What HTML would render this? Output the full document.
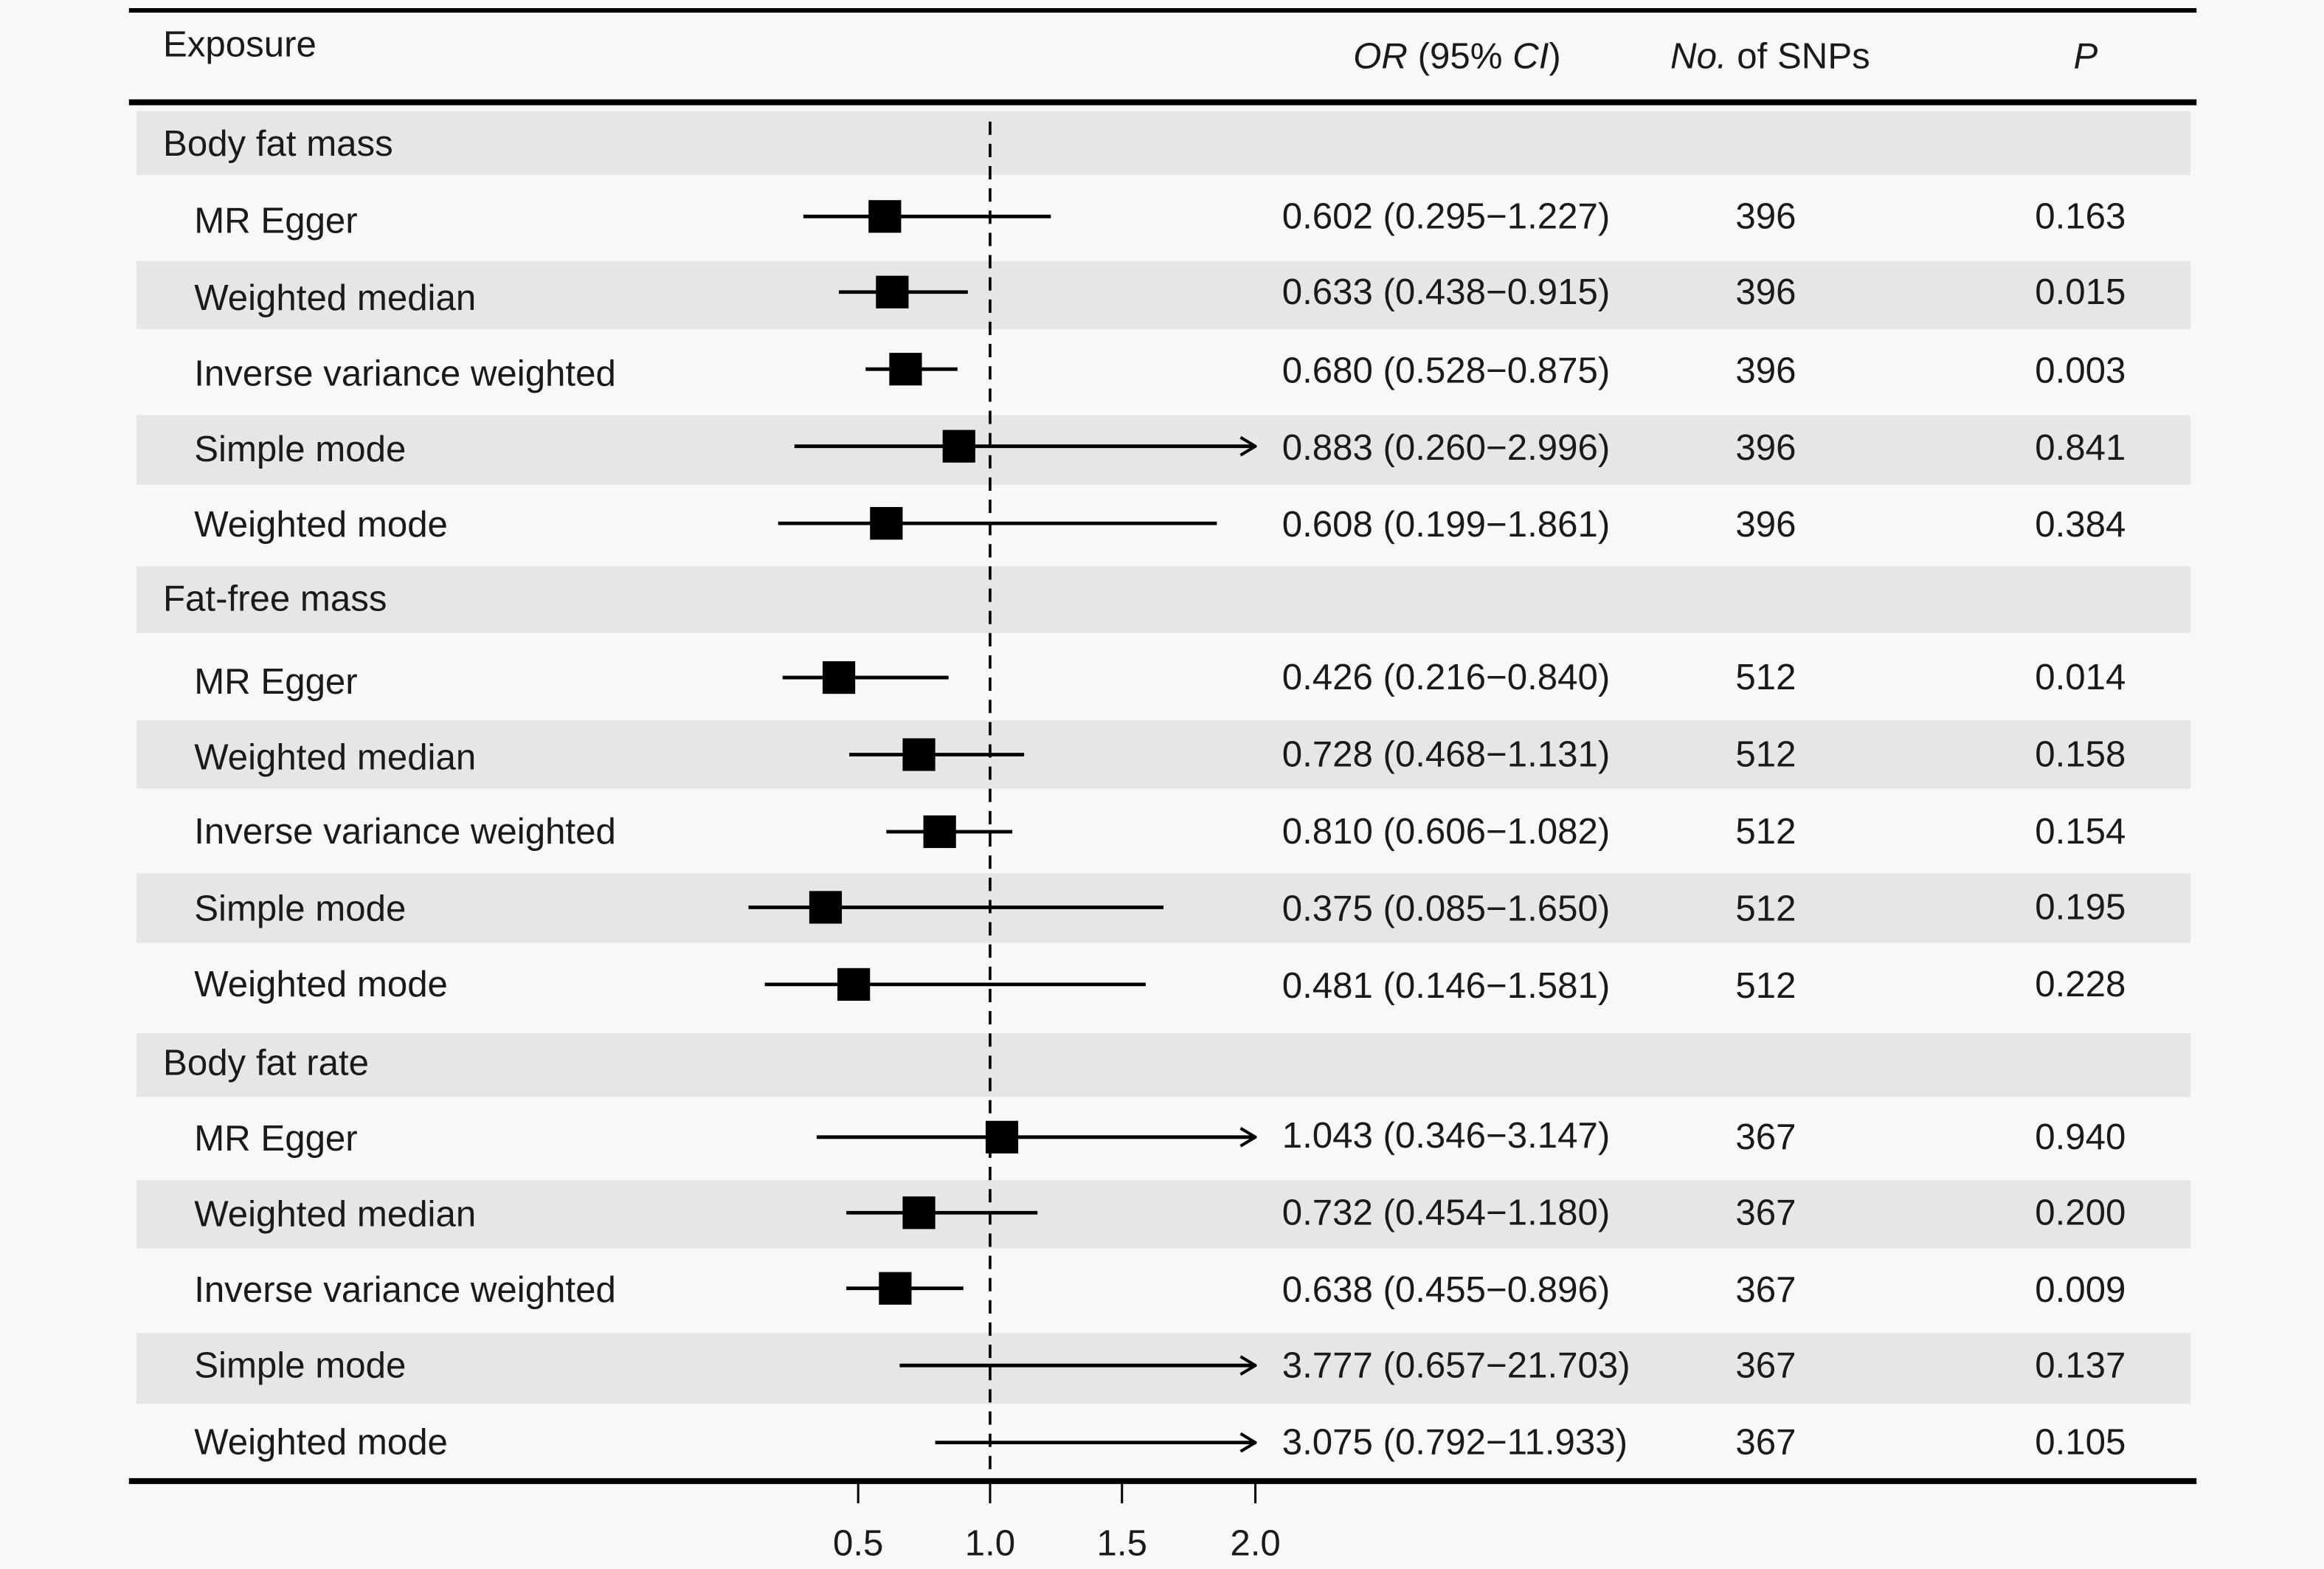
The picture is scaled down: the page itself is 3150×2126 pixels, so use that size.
<!DOCTYPE html>
<html><head><meta charset="utf-8"><style>
html,body{margin:0;padding:0;background:#f8f8f8;}
svg{display:block;}
text{font-family:"Liberation Sans",sans-serif;font-size:24.5px;fill:#1a1a1a;}
</style></head><body>
<svg width="3150" height="2126" viewBox="0 0 1568 1058.3" xmlns="http://www.w3.org/2000/svg">
<rect x="0" y="0" width="1568" height="1059" fill="#f8f8f8"/>
<g fill="#e6e6e6">
<rect x="92" y="75" width="1386" height="43"/>
<rect x="92" y="176" width="1386" height="46"/>
<rect x="92" y="280" width="1386" height="47"/>
<rect x="92" y="382" width="1386" height="45"/>
<rect x="92" y="486" width="1386" height="46"/>
<rect x="92" y="589" width="1386" height="47"/>
<rect x="92" y="697" width="1386" height="43"/>
<rect x="92" y="796" width="1386" height="46"/>
<rect x="92" y="899" width="1386" height="48"/>
</g>
<line x1="87" y1="7" x2="1482" y2="7" stroke="#000" stroke-width="3"/>
<line x1="87" y1="69" x2="1482" y2="69" stroke="#000" stroke-width="4"/>
<line x1="87" y1="999" x2="1482" y2="999" stroke="#000" stroke-width="4"/>
<line x1="668" y1="82" x2="668" y2="997" stroke="#000" stroke-width="1.8" stroke-dasharray="9,6"/>
<g stroke="#000" stroke-width="1.5">
<line x1="579" y1="1000" x2="579" y2="1014"/><line x1="668" y1="1000" x2="668" y2="1014"/>
<line x1="757" y1="1000" x2="757" y2="1014"/><line x1="847" y1="1000" x2="847" y2="1014"/>
</g>
<g text-anchor="middle">
<text x="579" y="1049">0.5</text><text x="668" y="1049">1.0</text><text x="757" y="1049">1.5</text><text x="847" y="1049">2.0</text>
</g>
<text x="110" y="38">Exposure</text>
<text x="913" y="46"><tspan font-style="italic">OR</tspan> (95% <tspan font-style="italic">CI</tspan>)</text>
<text x="1127" y="46"><tspan font-style="italic">No.</tspan> of SNPs</text>
<text x="1399" y="46" font-style="italic">P</text>
<text x="110" y="105">Body fat mass</text>
<text x="110" y="412">Fat-free mass</text>
<text x="110" y="725">Body fat rate</text>
<defs><marker id="ar" markerWidth="12" markerHeight="14" refX="11" refY="7" orient="auto" markerUnits="userSpaceOnUse"><path d="M1,1 L11,7 L1,13" fill="none" stroke="#000" stroke-width="2"/></marker></defs>
<g stroke="#000" stroke-width="2.4">
<line x1="542" y1="146" x2="709" y2="146"/>
<line x1="566" y1="197" x2="653" y2="197"/>
<line x1="584" y1="249" x2="646" y2="249"/>
<line x1="536" y1="301" x2="847" y2="301" marker-end="url(#ar)"/>
<line x1="525" y1="353" x2="821" y2="353"/>
<line x1="528" y1="457" x2="640" y2="457"/>
<line x1="573" y1="509" x2="691" y2="509"/>
<line x1="598" y1="561" x2="683" y2="561"/>
<line x1="505" y1="612" x2="785" y2="612"/>
<line x1="516" y1="664" x2="773" y2="664"/>
<line x1="551" y1="767" x2="847" y2="767" marker-end="url(#ar)"/>
<line x1="571" y1="818" x2="700" y2="818"/>
<line x1="571" y1="869" x2="650" y2="869"/>
<line x1="607" y1="921" x2="847" y2="921" marker-end="url(#ar)"/>
<line x1="631" y1="973" x2="847" y2="973" marker-end="url(#ar)"/>
</g>
<g fill="#000">
<rect x="586" y="135" width="22" height="22"/>
<rect x="591" y="186" width="22" height="22"/>
<rect x="600" y="238" width="22" height="22"/>
<rect x="636" y="290" width="22" height="22"/>
<rect x="587" y="342" width="22" height="22"/>
<rect x="555" y="446" width="22" height="22"/>
<rect x="609" y="498" width="22" height="22"/>
<rect x="623" y="550" width="22" height="22"/>
<rect x="546" y="601" width="22" height="22"/>
<rect x="565" y="653" width="22" height="22"/>
<rect x="665" y="756" width="22" height="22"/>
<rect x="609" y="807" width="22" height="22"/>
<rect x="593" y="858" width="22" height="22"/>
</g>
<g>
<text x="131" y="157">MR Egger</text><text x="865" y="154">0.602 (0.295−1.227)</text><text x="1171" y="154">396</text><text x="1373" y="154">0.163</text>
<text x="131" y="209">Weighted median</text><text x="865" y="205">0.633 (0.438−0.915)</text><text x="1171" y="205">396</text><text x="1373" y="205">0.015</text>
<text x="131" y="260">Inverse variance weighted</text><text x="865" y="258">0.680 (0.528−0.875)</text><text x="1171" y="258">396</text><text x="1373" y="258">0.003</text>
<text x="131" y="311">Simple mode</text><text x="865" y="310">0.883 (0.260−2.996)</text><text x="1171" y="310">396</text><text x="1373" y="310">0.841</text>
<text x="131" y="362">Weighted mode</text><text x="865" y="362">0.608 (0.199−1.861)</text><text x="1171" y="362">396</text><text x="1373" y="362">0.384</text>
<text x="131" y="468">MR Egger</text><text x="865" y="465">0.426 (0.216−0.840)</text><text x="1171" y="465">512</text><text x="1373" y="465">0.014</text>
<text x="131" y="519">Weighted median</text><text x="865" y="517">0.728 (0.468−1.131)</text><text x="1171" y="517">512</text><text x="1373" y="517">0.158</text>
<text x="131" y="569">Inverse variance weighted</text><text x="865" y="569">0.810 (0.606−1.082)</text><text x="1171" y="569">512</text><text x="1373" y="569">0.154</text>
<text x="131" y="621">Simple mode</text><text x="865" y="621">0.375 (0.085−1.650)</text><text x="1171" y="621">512</text><text x="1373" y="620">0.195</text>
<text x="131" y="672">Weighted mode</text><text x="865" y="673">0.481 (0.146−1.581)</text><text x="1171" y="673">512</text><text x="1373" y="672">0.228</text>
<text x="131" y="776">MR Egger</text><text x="865" y="774">1.043 (0.346−3.147)</text><text x="1171" y="775">367</text><text x="1373" y="775">0.940</text>
<text x="131" y="827">Weighted median</text><text x="865" y="826">0.732 (0.454−1.180)</text><text x="1171" y="826">367</text><text x="1373" y="826">0.200</text>
<text x="131" y="878">Inverse variance weighted</text><text x="865" y="878">0.638 (0.455−0.896)</text><text x="1171" y="878">367</text><text x="1373" y="878">0.009</text>
<text x="131" y="929">Simple mode</text><text x="865" y="929">3.777 (0.657−21.703)</text><text x="1171" y="929">367</text><text x="1373" y="929">0.137</text>
<text x="131" y="981">Weighted mode</text><text x="865" y="981">3.075 (0.792−11.933)</text><text x="1171" y="981">367</text><text x="1373" y="981">0.105</text>
</g>
</svg>
</body></html>
